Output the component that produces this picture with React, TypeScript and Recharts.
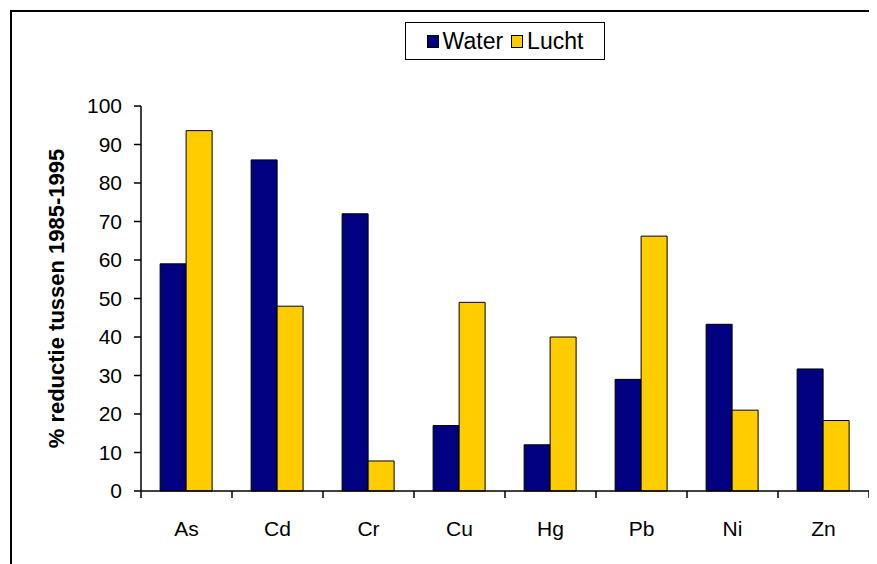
import React from "react";
import { BarChart, Bar, XAxis, YAxis, Legend } from "recharts";

const categories = ["As", "Cd", "Cr", "Cu", "Hg", "Pb", "Ni", "Zn"];
const water = [59, 86, 72, 17, 12, 29, 43.3, 31.7];
const lucht = [93.6, 48, 7.8, 49, 40, 66.2, 21, 18.3];
const yTicks = [0, 10, 20, 30, 40, 50, 60, 70, 80, 90, 100];

const data = categories.map((c, i) => ({ name: c, Water: water[i], Lucht: lucht[i] }));

const FONT = "'Liberation Sans', Arial, sans-serif";
const NAVY = "#000080";
const GOLD = "#FFCC00";
const X_TICK_MARGIN = 30;
const X_TICK_LEN = 7;

const LegendBox = () => (
  <div
    style={{
      border: "1.5px solid #000",
      background: "#fff",
      width: 200,
      height: 38,
      boxSizing: "border-box",
      display: "flex",
      alignItems: "center",
      justifyContent: "center",
      fontFamily: FONT,
      fontSize: 23,
      color: "#000",
    }}
  >
    {[
      { label: "Water", color: NAVY },
      { label: "Lucht", color: GOLD },
    ].map((it, i) => (
      <span key={it.label} style={{ display: "flex", alignItems: "center", marginLeft: i ? 8 : 0 }}>
        <span
          style={{
            display: "inline-block",
            width: 10,
            height: 11,
            background: it.color,
            border: "1px solid #000",
            marginRight: 4,
          }}
        />
        {it.label}
      </span>
    ))}
  </div>
);

const YLabel = (props: any) => {
  const vb = props.viewBox || {};
  const cx = 48;
  const cy = vb.y + vb.height / 2;
  return (
    <text
      x={cx}
      y={cy}
      transform={`rotate(-90, ${cx}, ${cy})`}
      textAnchor="middle"
      dominantBaseline="central"
      fontFamily={FONT}
      fontSize={22}
      fontWeight="bold"
      fill="#000"
    >
      % reductie tussen 1985-1995
    </text>
  );
};

const CatTick = (props: any) => {
  const { x, y, payload, index, visibleTicksCount, width } = props;
  const count = visibleTicksCount || categories.length;
  const band = Number(width) / count;
  const axisY = y - X_TICK_MARGIN;
  const left = x - band / 2;
  const right = x + band / 2;
  return (
    <g>
      <line x1={left} y1={axisY} x2={left} y2={axisY + X_TICK_LEN} stroke="#000" strokeWidth={1.5} />
      {index === count - 1 && (
        <line x1={right} y1={axisY} x2={right} y2={axisY + X_TICK_LEN} stroke="#000" strokeWidth={1.5} />
      )}
      <text x={x} y={y} dy="0.71em" textAnchor="middle" fontFamily={FONT} fontSize={21} fill="#000">
        {payload.value}
      </text>
    </g>
  );
};

export default function App() {
  return (
    <div style={{ position: "relative", width: 869, height: 556, overflow: "hidden" }}>
      <div
        style={{
          position: "absolute",
          left: 2,
          top: 2,
          width: 1000,
          height: 1000,
          borderTop: "2px solid #000",
          borderLeft: "2px solid #000",
          pointerEvents: "none",
        }}
      />
      <BarChart
        width={869}
        height={556}
        data={data}
        margin={{ top: 60, right: 8, bottom: 0, left: 0 }}
        barCategoryGap="21%"
        barGap={0}
        style={{ position: "absolute", left: 0, top: 0 }}
      >
        <XAxis
          dataKey="name"
          height={73}
          axisLine={{ stroke: "#000", strokeWidth: 1.5 }}
          tickLine={false}
          tickSize={0}
          tickMargin={X_TICK_MARGIN}
          tick={<CatTick />}
          interval={0}
        />
        <YAxis
          width={133}
          domain={[0, 100]}
          ticks={yTicks}
          interval={0}
          axisLine={{ stroke: "#000", strokeWidth: 1.5 }}
          tickLine={{ stroke: "#000", strokeWidth: 1.5 }}
          tickSize={7}
          tickMargin={12}
          tick={{ fontFamily: FONT, fontSize: 21, fill: "#000" }}
          label={<YLabel />}
        />
        <Legend
          layout="vertical"
          align="center"
          verticalAlign="top"
          content={<LegendBox />}
          wrapperStyle={{ top: 14, left: 397, width: 200 }}
        />
        <Bar dataKey="Water" fill={NAVY} stroke="#000" strokeWidth={1} isAnimationActive={false} />
        <Bar dataKey="Lucht" fill={GOLD} stroke="#000" strokeWidth={1} isAnimationActive={false} />
      </BarChart>
    </div>
  );
}
